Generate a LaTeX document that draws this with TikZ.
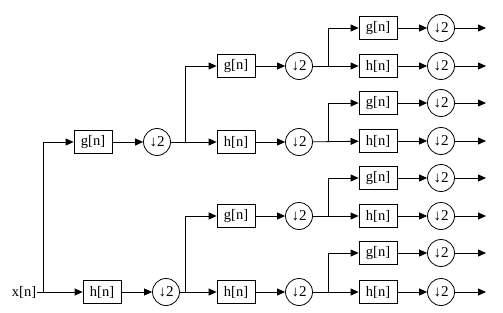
\documentclass[tikz,border=0pt]{standalone}
\usepackage{fontspec}
\setmainfont{Liberation Serif}
\usetikzlibrary{arrows.meta}
\begin{document}
\begin{tikzpicture}[x=1pt,y=-1pt,
  filt/.style={draw,line width=0.8pt,minimum width=38pt,minimum height=23pt,inner sep=0pt,font=\fontsize{14.5}{14.5}\selectfont},
  down/.style={draw,circle,line width=0.8pt,minimum size=27pt,inner sep=0pt,font=\fontsize{15}{15}\selectfont},
  conn/.style={line width=0.8pt},
  arr/.style={line width=0.8pt,-{Triangle[length=8pt,width=7pt]}}]
\useasboundingbox (0,0) rectangle (503,313);
% level 1
\node[font=\fontsize{14.5}{14.5}\selectfont,inner sep=1pt] (x) at (24,292) {x[n]};
\coordinate (b0) at (43,292);
\node[filt] (g1) at (93,142) {g[n]};
\node[down] (d1) at (157,142) {↓2};
\node[filt] (h1) at (102,292) {h[n]};
\node[down] (d2) at (166,292) {↓2};
\draw[arr] (x) -- (h1);
\draw[arr] (b0) |- (g1);
\draw[arr] (g1) -- (d1);
\draw[arr] (h1) -- (d2);
% level 2
\coordinate (b1) at (185,142);
\coordinate (b2) at (185,292);
\node[filt] (g2a) at (236,66) {g[n]};
\node[filt] (h2a) at (236,142) {h[n]};
\node[filt] (g2b) at (236,216) {g[n]};
\node[filt] (h2b) at (236,292) {h[n]};
\node[down] (d2a) at (299,66) {↓2};
\node[down] (d2b) at (299,142) {↓2};
\node[down] (d2c) at (299,216) {↓2};
\node[down] (d2d) at (299,292) {↓2};
\draw[arr] (d1) -- (h2a);
\draw[arr] (b1) |- (g2a);
\draw[arr] (d2) -- (h2b);
\draw[arr] (b2) |- (g2b);
\draw[arr] (g2a) -- (d2a);
\draw[arr] (h2a) -- (d2b);
\draw[arr] (g2b) -- (d2c);
\draw[arr] (h2b) -- (d2d);
% level 3
\foreach \i/\ya/\yb/\src in {1/28/66/d2a,2/103/141/d2b,3/178/216/d2c,4/253/292/d2d}{
  \node[filt] (g3\i) at (378,\ya) {g[n]};
  \node[filt] (h3\i) at (378,\yb) {h[n]};
  \node[down] (e3\i) at (441,\ya) {↓2};
  \node[down] (f3\i) at (441,\yb) {↓2};
  \coordinate (c3\i) at (328,\yb);
  \coordinate (og3\i) at (486,\ya);
  \coordinate (oh3\i) at (486,\yb);
  \draw[arr] (\src) -- (h3\i);
  \draw[arr] (c3\i) |- (g3\i);
  \draw[arr] (g3\i) -- (e3\i);
  \draw[arr] (h3\i) -- (f3\i);
  \draw[arr] (e3\i) -- (og3\i);
  \draw[arr] (f3\i) -- (oh3\i);
}
\end{tikzpicture}
\end{document}
